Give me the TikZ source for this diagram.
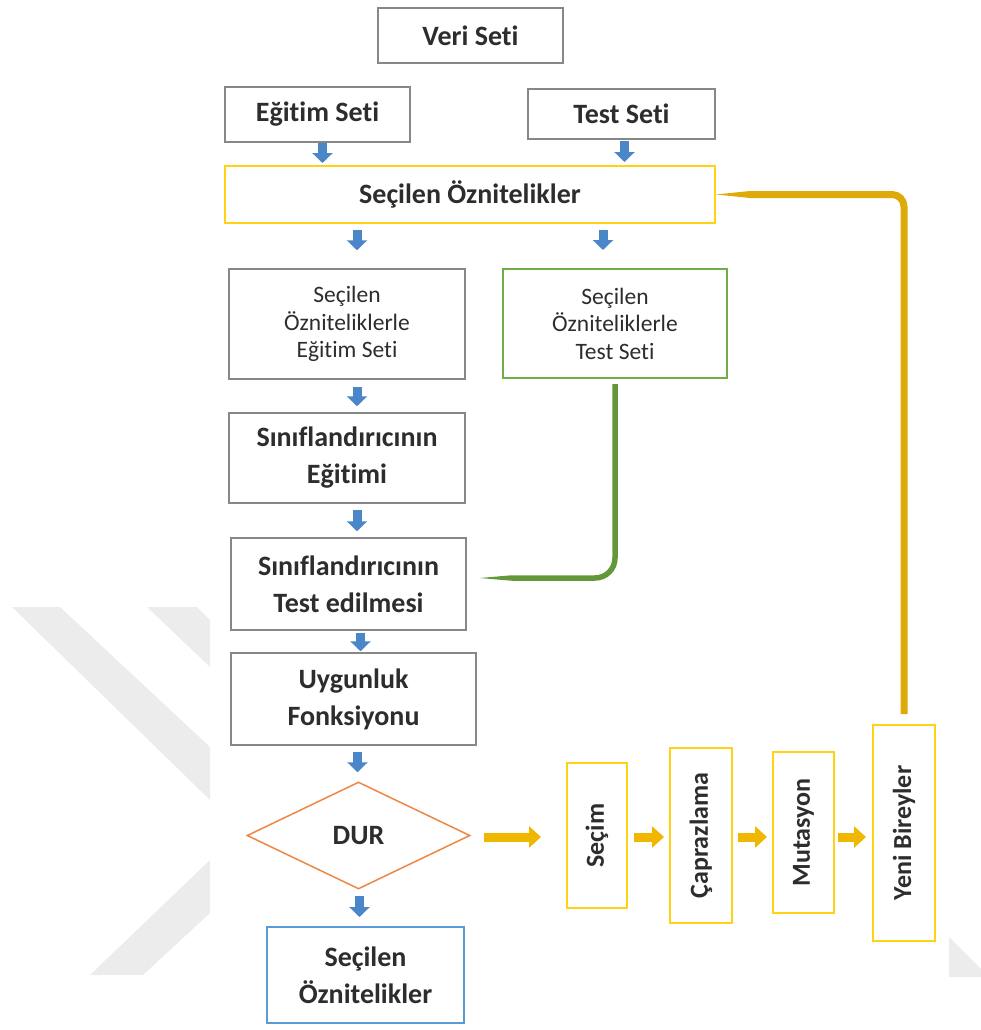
\documentclass[tikz,border=0pt]{standalone}
\usepackage{fontspec}
\setmainfont{Carlito}[Ligatures={NoCommon,NoContextual}]
\usetikzlibrary{shapes.geometric,arrows.meta,calc}

\definecolor{txt}{RGB}{45,45,45}
\definecolor{boxgray}{RGB}{135,135,135}
\definecolor{ybox}{RGB}{255,210,20}
\definecolor{gbox}{RGB}{112,173,71}
\definecolor{bbox}{RGB}{91,155,213}
\definecolor{obox}{RGB}{237,135,70}
\definecolor{barr}{RGB}{74,134,200}
\definecolor{yarr}{RGB}{240,183,0}
\definecolor{fbline}{RGB}{222,170,10}
\definecolor{gline}{RGB}{98,152,58}
\definecolor{wmark}{RGB}{236,236,236}

\begin{document}
\begin{tikzpicture}[x=1pt,y=-1pt,
  box/.style={draw=boxgray, line width=1.5pt, fill=white, inner sep=0pt,
    align=center, text=txt, font=\fontsize{28}{37}\selectfont\bfseries},
  smallbox/.style={box, font=\fontsize{23.5}{27.5}\selectfont},
  ybx/.style={box, draw=ybox, line width=2pt},
  vtext/.style={ybx, font=\fontsize{26}{30}\selectfont\bfseries},
  downarr/.style={line width=9pt, draw=barr,
    -{Triangle[width=20pt,length=10pt]}},
  rightarr/.style={line width=9pt, draw=yarr,
    -{Triangle[width=21pt,length=12pt]}},
]
\useasboundingbox (0,0) rectangle (981,1030);

% faint background mark
\fill[wmark] (12,607) -- (60,607) -- (210,747) -- (210,800) -- cycle;
\fill[wmark] (147,607) -- (197,607) -- (210,620) -- (210,667) -- cycle;
\fill[wmark] (210,860) -- (210,913) -- (143,975) -- (90,975) -- cycle;
\fill[wmark] (949,937) -- (981,969) -- (981,977) -- (949,977) -- cycle;

% data split
\node[box, minimum width=185pt, minimum height=55pt] (veri) at (470.5,35.5) {Veri Seti};
\node[box, minimum width=185pt, minimum height=55pt] (egitim) at (317.5,114.5) {Eğitim Seti};
\node[box, minimum width=187pt, minimum height=50pt] (test) at (621.5,114) {Test Seti};
\node[ybx, minimum width=490pt, minimum height=57pt] (secilen) at (470,194.5) {Seçilen Öznitelikler};

% reduced sets
\node[smallbox, minimum width=236pt, minimum height=110pt] (egset) at (347,324)
  {Seçilen\\Özniteliklerle\\Eğitim Seti};
\node[smallbox, draw=gbox, line width=2pt, minimum width=224pt, minimum height=109pt] (tset) at (615,323.5)
  {Seçilen\\Özniteliklerle\\Test Seti};

% classifier steps
\node[box, minimum width=236pt, minimum height=90pt] (train) at (347,458)
  {Sınıflandırıcının\\Eğitimi};
\node[box, minimum width=235pt, minimum height=92pt] (eval) at (348.5,584)
  {Sınıflandırıcının\\Test edilmesi};
\node[box, minimum width=245pt, minimum height=92pt] (fit) at (353.5,699)
  {Uygunluk\\Fonksiyonu};
\node[draw=obox, line width=1.5pt, diamond, inner sep=0pt, minimum width=223pt,
  minimum height=107pt, text=txt, font=\fontsize{28}{37}\selectfont\bfseries]
  (dur) at (358.5,835.5) {DUR};
\node[box, draw=bbox, line width=2pt, minimum width=197pt, minimum height=96pt] (out) at (365.5,975)
  {Seçilen\\Öznitelikler};

% genetic operators
\node[vtext, minimum width=60pt, minimum height=145pt] (sec) at (597,835.5) {\rotatebox{90}{Seçim}};
\node[vtext, minimum width=62pt, minimum height=175pt] (capr) at (701,835.5) {\rotatebox{90}{Çaprazlama}};
\node[vtext, minimum width=61pt, minimum height=161pt] (mut) at (803.5,832.5) {\rotatebox{90}{Mutasyon}};
\node[vtext, minimum width=62pt, minimum height=216pt] (yeni) at (904,833) {\rotatebox{90}{Yeni Bireyler}};

% blue block arrows
\draw[downarr, shorten >=2pt] ([xshift=5pt]egitim.south) -- ([xshift=5pt]egitim.south |- secilen.north);
\draw[downarr, shorten <=1pt, shorten >=3pt] ([xshift=3pt]test.south) -- ([xshift=3pt]test.south |- secilen.north);
\draw[downarr, shorten <=6pt, shorten >=18pt] (secilen.south -| egset.north) ++(10pt,0) -- ([xshift=10pt]egset.north);
\draw[downarr, shorten <=6pt, shorten >=18pt] (secilen.south -| tset.north) ++(-12pt,0) -- ([xshift=-12pt]tset.north);
\draw[downarr, shorten <=7pt, shorten >=6pt] ([xshift=10pt]egset.south) -- ([xshift=10pt]egset.south |- train.north);
\draw[downarr, shorten <=6pt, shorten >=6pt] ([xshift=10pt]train.south) -- ([xshift=10pt]train.south |- eval.north);
\draw[downarr, shorten <=2pt, shorten >=1pt] ([xshift=12pt]eval.south) -- ([xshift=12pt]eval.south |- fit.north);
\draw[downarr, shorten <=6pt, shorten >=9pt] ([xshift=4pt]fit.south) -- ([xshift=4pt]fit.south |- dur.north);
\draw[downarr, shorten <=6pt, shorten >=9pt] ([xshift=1pt]dur.south) -- ([xshift=1pt]dur.south |- out.north);

% yellow block arrows
\draw[rightarr, shorten <=13pt, shorten >=25pt] ([yshift=-1.5pt]dur.east) -- ([yshift=-1.5pt]dur.east -| sec.west);
\draw[rightarr, shorten <=6pt, shorten >=5pt] ([yshift=-1.5pt]sec.east) -- ([yshift=-1.5pt]sec.east -| capr.west);
\draw[rightarr, shorten <=5pt, shorten >=5pt] ([yshift=-1.5pt]capr.east) -- ([yshift=-1.5pt]capr.east -| mut.west);
\draw[rightarr, shorten <=3pt, shorten >=6pt] ([yshift=-4.5pt]mut.east) -- ([yshift=-4.5pt]mut.east -| yeni.west);

% feedback from the new individuals to the selected features
\coordinate (fbtip) at (secilen.east);
\coordinate (fbfull) at ([xshift=34pt]secilen.east);
\draw[fbline, line width=7pt, rounded corners=12pt]
  (fbfull) -- (fbfull -| yeni.north) -- ([yshift=10pt]yeni.north);
\fill[fbline] (fbtip) -- ([yshift=3.5pt]fbfull) -- ([yshift=-3.5pt]fbfull) -- cycle;

% test set into classifier evaluation
\coordinate (gtip) at ([xshift=13pt,yshift=6pt]eval.east);
\coordinate (gfull) at ([xshift=45pt,yshift=6pt]eval.east);
\draw[gline, line width=5.5pt, rounded corners=20pt]
  ([yshift=-5pt]tset.south) |- (gfull);
\fill[gline] (gtip) -- ([yshift=2.75pt]gfull) -- ([yshift=-2.75pt]gfull) -- cycle;
\end{tikzpicture}
\end{document}
